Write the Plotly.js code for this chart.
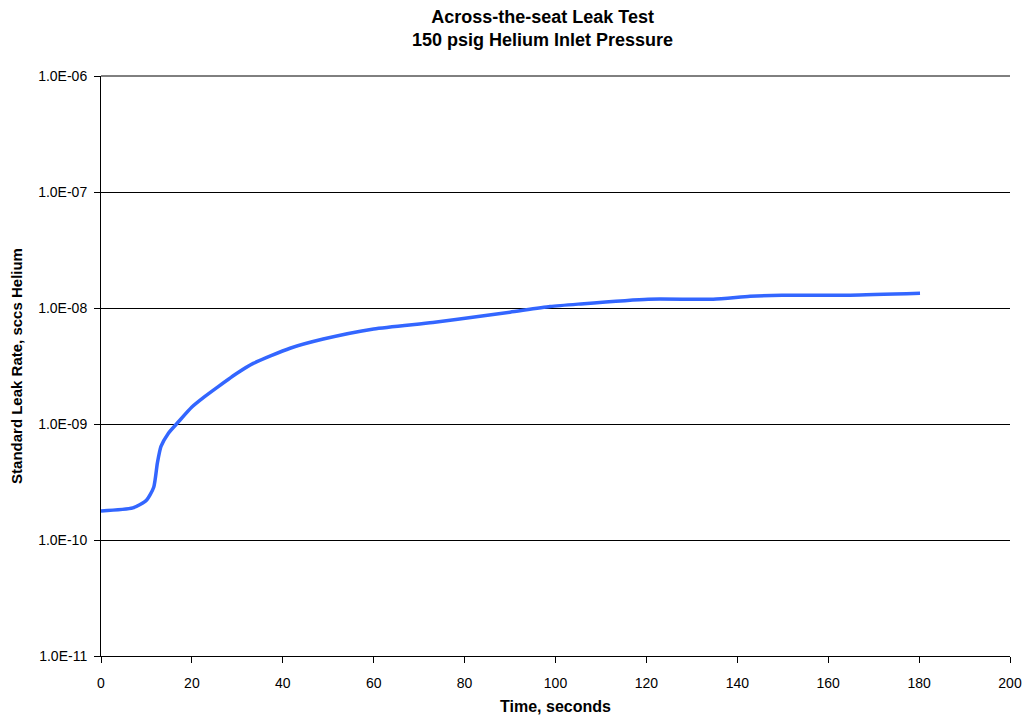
<!DOCTYPE html>
<html>
<head>
<meta charset="utf-8">
<script src="https://cdn.plot.ly/plotly-3.0.1.min.js"></script>
<style>body{margin:0;padding:0;background:#fff}#chart{width:1027px;height:721px}</style>
</head>
<body>
<div id="chart"></div>
<script>
const timeSeconds = [0, 7, 10, 11.6, 12.4, 13.2, 14.8, 17, 20, 22.8, 25.8, 30, 33.5, 41.6, 48.9, 60, 73, 83.4, 90, 98.8, 105, 120.4, 134.7, 142.8, 149.8, 164.8, 180.2];
const leakRate = [1.78e-10, 1.89e-10, 2.2e-10, 2.85e-10, 4.6e-10, 6.4e-10, 8.3e-10, 1.04e-9, 1.4e-9, 1.72e-9, 2.1e-9, 2.75e-9, 3.33e-9, 4.5e-9, 5.4e-9, 6.6e-9, 7.5e-9, 8.5e-9, 9.2e-9, 1.03e-8, 1.08e-8, 1.19e-8, 1.19e-8, 1.26e-8, 1.29e-8, 1.29e-8, 1.34e-8];
const yTickVals = [1e-11, 1e-10, 1e-9, 1e-8, 1e-7, 1e-6];
const yTickText = ["1.0E-11", "1.0E-10", "1.0E-09", "1.0E-08", "1.0E-07", "1.0E-06"];
const xTickVals = [0, 20, 40, 60, 80, 100, 120, 140, 160, 180, 200];
const chartTitle = "Across-the-seat Leak Test<br>150 psig Helium Inlet Pressure";

const font = "Liberation Sans, Arial, Helvetica, sans-serif";
Plotly.newPlot('chart', [{
  x: timeSeconds, y: leakRate, type: 'scatter', mode: 'lines',
  line: {color: '#3366ff', width: 3.5, shape: 'spline', smoothing: 0.6},
  hoverinfo: 'x+y'
}], {
  width: 1027, height: 721,
  margin: {l: 101, r: 17, t: 76, b: 65},
  paper_bgcolor: '#fff', plot_bgcolor: '#fff',
  showlegend: false,
  font: {family: font, color: '#000', size: 14},
  annotations: [{
    text: '<b>' + chartTitle + '</b>', xref: 'paper', yref: 'paper',
    x: 0.486, y: 1.0819, xanchor: 'center', yanchor: 'middle', showarrow: false,
    font: {family: font, size: 18, color: '#000'}
  }],
  shapes: [{type: 'line', xref: 'paper', yref: 'paper', x0: 0, x1: 1, y0: 1, y1: 1, line: {color: '#000', width: 1}}],
  xaxis: {
    range: [0, 200], tickvals: xTickVals, ticktext: xTickVals.map(String),
    ticks: 'outside', ticklen: 6, tickcolor: '#000', showline: true, linecolor: '#000', linewidth: 1,
    showgrid: false, zeroline: false, tickfont: {size: 14}, ticklabelstandoff: 8,
    title: {text: '<b>Time, seconds</b>', font: {size: 16}, standoff: 11}
  },
  yaxis: {
    type: 'log', range: [-11, -6], tickvals: yTickVals, ticktext: yTickText,
    ticks: 'outside', ticklen: 6, tickcolor: '#000', showline: true, linecolor: '#000', linewidth: 1,
    showgrid: true, gridcolor: '#000', gridwidth: 1, zeroline: false, tickfont: {size: 14}, ticklabelstandoff: 4,
    title: {text: '<b>Standard Leak Rate, sccs Helium</b>', font: {size: 15}, standoff: 11}
  }
}, {displayModeBar: false});
</script>
</body>
</html>
